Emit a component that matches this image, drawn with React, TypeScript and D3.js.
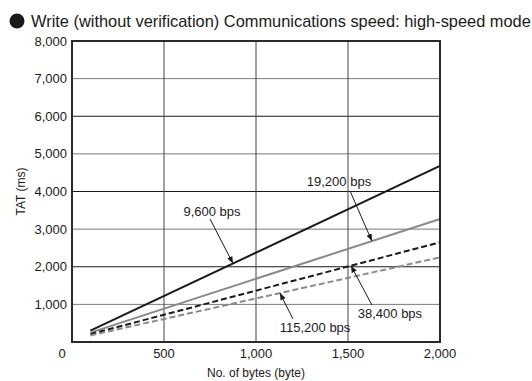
import React from "react";
import * as d3 from "d3";

const title = "Write (without verification) Communications speed: high-speed mode";
const xTicks = [0, 500, 1000, 1500, 2000];
const yTicks = [0, 1000, 2000, 3000, 4000, 5000, 6000, 7000, 8000];
const xLabel = "No. of bytes (byte)";
const yLabel = "TAT (ms)";

const bytes = [100, 2000];
const s9600 = [300, 4680];
const s19200 = [250, 3270];
const s38400 = [210, 2650];
const s115200 = [175, 2250];

const seriesNames = ["9,600 bps", "19,200 bps", "38,400 bps", "115,200 bps"];
// label centre (bytes, ms), arrow start (bytes, ms), arrow tip x (bytes)
const labelAt = [[761, 3457], [1451, 4255], [1728, 771], [1321, 399]];
const arrowFrom = [[750, 3271], [1511, 4016], [1630, 984], [1201, 612]];
const arrowTipX = [875, 1630, 1516, 1130];

const W = 532, H = 381;
const m = { left: 72, right: 440, top: 41, bottom: 342 };

export default function App() {
  const x = d3.scaleLinear().domain([0, 2000]).range([m.left, m.right]);
  const y = d3.scaleLinear().domain([0, 8000]).range([m.bottom, m.top]);
  const series = [s9600, s19200, s38400, s115200];
  const styles = [
    { stroke: "#1a1a1a", dash: "" },
    { stroke: "#8a8a8a", dash: "" },
    { stroke: "#1a1a1a", dash: "6,3" },
    { stroke: "#8a8a8a", dash: "6,3" },
  ];
  const line = d3.line<number>().x((_, i) => x(bytes[i])).y((d) => y(d));
  const interp = (s: number[], b: number) => s[0] + ((s[1] - s[0]) * (b - bytes[0])) / (bytes[1] - bytes[0]);
  const font = "Liberation Sans, Arial, Helvetica, sans-serif";

  return (
    <svg width={W} height={H} style={{ position: "absolute", left: 0, top: 0 }} fontFamily={font}>
      <rect width={W} height={H} fill="#fff" />
      <defs>
        <marker id="ah" viewBox="0 0 10 10" refX="10" refY="5" markerWidth="7" markerHeight="7" orient="auto" markerUnits="userSpaceOnUse">
          <path d="M0,1 L10,5 L0,9 z" fill="#1a1a1a" />
        </marker>
      </defs>
      <circle cx={17} cy={21} r={7.5} fill="#1a1a1a" />
      <text x={31} y={27} fontSize={16.4} fill="#1a1a1a">{title}</text>
      {yTicks.filter((t) => t > 0 && t < 8000).map((t) => (
        <line key={"gy" + t} x1={m.left} x2={m.right} y1={y(t)} y2={y(t)}
          stroke={(t / 1000) % 2 === 1 ? "#7a7a7a" : "#1a1a1a"} strokeWidth={1} />
      ))}
      {xTicks.filter((t) => t > 0 && t < 2000).map((t) => (
        <line key={"gx" + t} x1={x(t)} x2={x(t)} y1={m.top} y2={m.bottom} stroke="#444" strokeWidth={1} />
      ))}
      {series.map((s, i) => (
        <path key={"s" + i} d={line(s) || ""} fill="none" stroke={styles[i].stroke}
          strokeWidth={2} strokeDasharray={styles[i].dash} />
      ))}
      <rect x={m.left} y={m.top} width={m.right - m.left} height={m.bottom - m.top} fill="none" stroke="#2a2a2a" strokeWidth={2} />
      {yTicks.filter((t) => t > 0).map((t) => (
        <text key={"ty" + t} x={m.left - 5} y={y(t)} dy="0.35em" textAnchor="end" fontSize={13} fill="#1a1a1a">
          {d3.format(",")(t)}
        </text>
      ))}
      <text x={m.left - 10} y={m.bottom + 11} dy="0.35em" textAnchor="middle" fontSize={13} fill="#1a1a1a">0</text>
      {xTicks.filter((t) => t > 0).map((t) => (
        <text key={"tx" + t} x={x(t)} y={m.bottom + 11} dy="0.35em" textAnchor="middle" fontSize={13} fill="#1a1a1a">
          {d3.format(",")(t)}
        </text>
      ))}
      <text x={(m.left + m.right) / 2} y={m.bottom + 31} dy="0.35em" textAnchor="middle" fontSize={12} fill="#1a1a1a">{xLabel}</text>
      <text transform={`translate(21,${(m.top + m.bottom) / 2}) rotate(-90)`} dy="0.35em" textAnchor="middle" fontSize={12} fill="#1a1a1a">{yLabel}</text>
      {seriesNames.map((n, i) => (
        <g key={"a" + i}>
          <line x1={x(arrowFrom[i][0])} y1={y(arrowFrom[i][1])} x2={x(arrowTipX[i])} y2={y(interp(series[i], arrowTipX[i]))}
            stroke="#1a1a1a" strokeWidth={1} markerEnd="url(#ah)" />
          <text x={x(labelAt[i][0])} y={y(labelAt[i][1])} dy="0.35em" textAnchor="middle" fontSize={13} fill="#1a1a1a">{n}</text>
        </g>
      ))}
    </svg>
  );
}
